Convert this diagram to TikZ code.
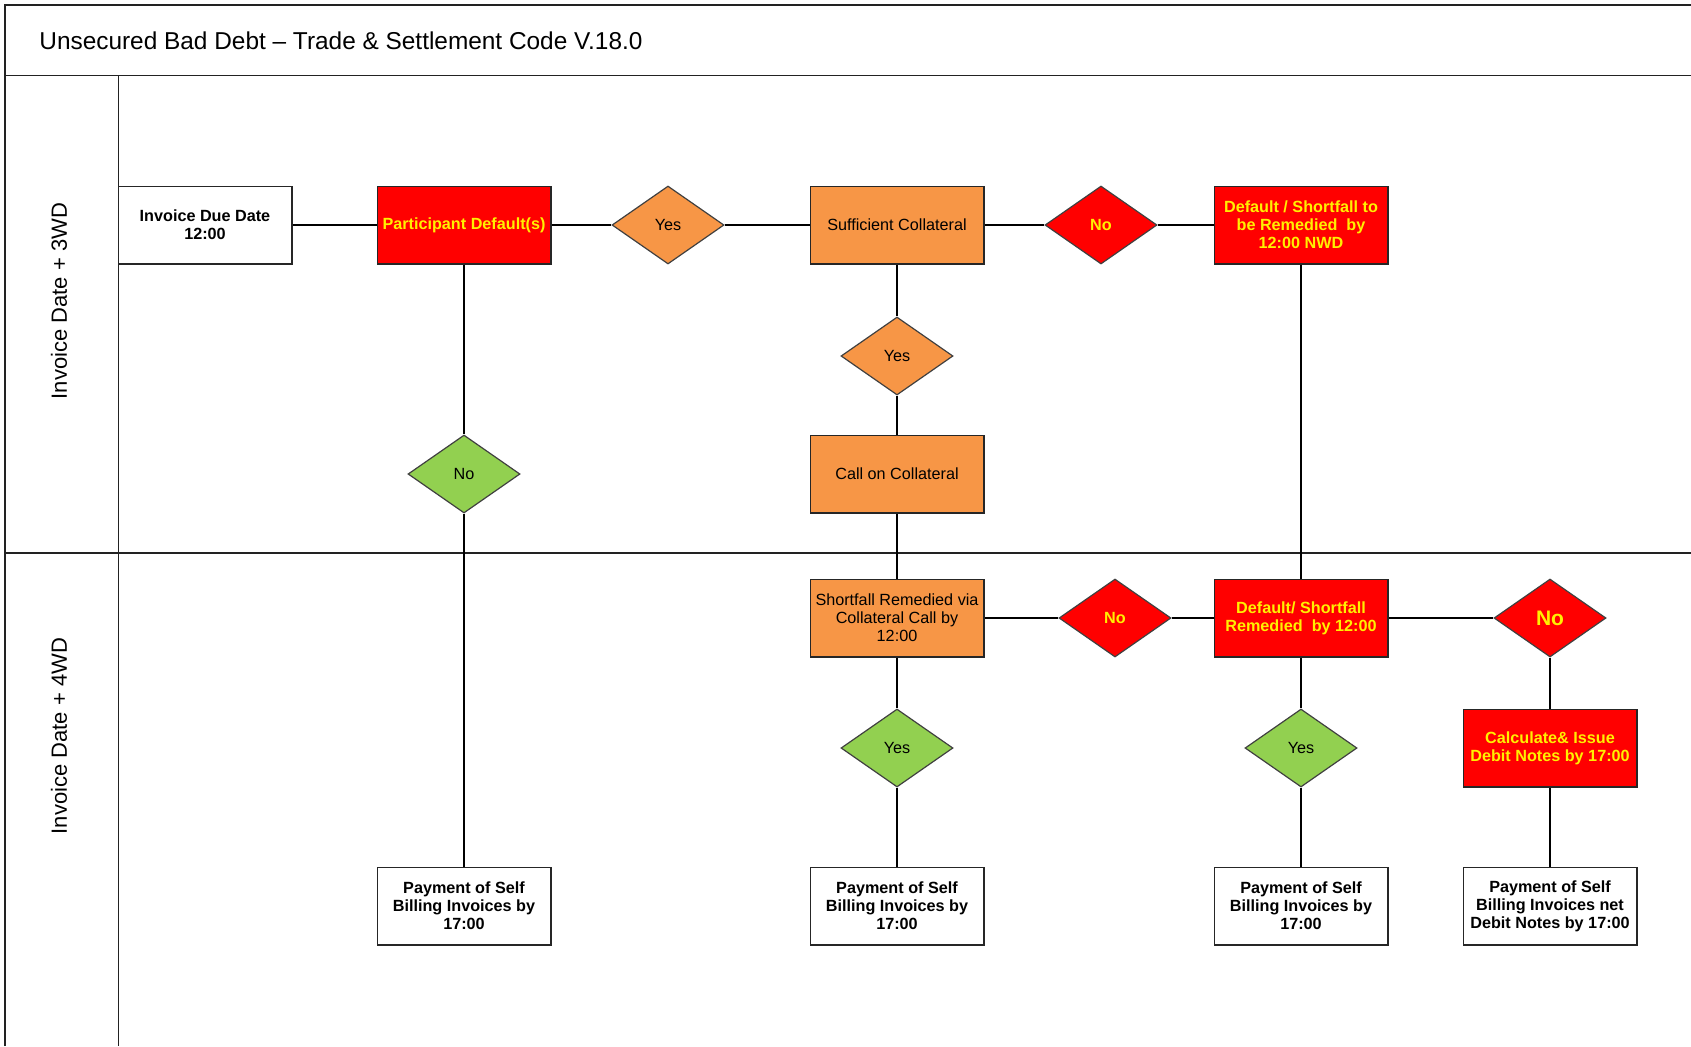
\documentclass[tikz,border=0pt]{standalone}
\usepackage{fontspec}
\setmainfont{Liberation Sans}
\usetikzlibrary{shapes.geometric}
\definecolor{boxorange}{HTML}{F79646}
\definecolor{boxgreen}{HTML}{92D050}
\definecolor{boxred}{HTML}{FF0000}
\definecolor{textyellow}{HTML}{FFF000}
\definecolor{framegray}{HTML}{222222}
\begin{document}
\begin{tikzpicture}
[x=0.5pt,y=-0.5pt,%
  boxdecorate/.style={shape=rectangle,draw=black!85,line width=0.7pt,minimum width=86.8pt,minimum height=38.8pt,inner sep=1pt,align=center},%
  whitebox/.style={boxdecorate,fill=white,font=\fontsize{8.1}{9}\selectfont\bfseries},%
  orangebox/.style={boxdecorate,fill=boxorange,font=\fontsize{8.1}{9}\selectfont},%
  redbox/.style={boxdecorate,fill=boxred,text=textyellow,font=\fontsize{8.1}{9}\selectfont\bfseries},%
  diamdecorate/.style={shape=diamond,draw=black!75,line width=0.6pt,minimum width=56pt,minimum height=39pt,inner sep=0pt},%
  orangediam/.style={diamdecorate,fill=boxorange,font=\fontsize{8.1}{9}\selectfont},%
  greendiam/.style={diamdecorate,fill=boxgreen,font=\fontsize{8.1}{9}\selectfont},%
  reddiam/.style={diamdecorate,fill=boxred,text=textyellow,font=\fontsize{8.1}{9}\selectfont\bfseries},%
  linedecorate/.style={-,line width=0.6pt,black},%
  framedecorate/.style={line width=0.7pt,framegray}]
\useasboundingbox (0,0) rectangle (1691,1046);
%% frame and lanes
\draw[framedecorate] (5,1046) -- (5,5) -- (1691,5);
\draw[framedecorate] (5,75.5) -- (1691,75.5);
\draw[framedecorate] (118.6,75.5) -- (118.6,1046);
\draw[framedecorate] (5,553) -- (1691,553);
\node (title) at (39,41) [anchor=west,inner sep=0pt,font=\fontsize{12.2}{14}\selectfont] {Unsecured Bad Debt -- Trade \& Settlement Code V.18.0};
\node (lanea) at (59,301) [rotate=90,font=\fontsize{11}{13}\selectfont] {Invoice Date + 3WD};
\node (laneb) at (59,736) [rotate=90,font=\fontsize{11}{13}\selectfont] {Invoice Date + 4WD};
%% boxes
\node (inv) at (205,225) [whitebox] {Invoice Due Date\\12:00};
\node (pd) at (464,225) [redbox] {Participant Default(s)};
\node (suff) at (897,225) [orangebox] {Sufficient Collateral};
\node (defa) at (1301,225) [redbox] {Default / Shortfall to\\be Remedied~ by\\12:00 NWD};
\node (call) at (897,474) [orangebox] {Call on Collateral};
\node (short) at (897,618) [orangebox] {Shortfall Remedied via\\Collateral Call by\\12:00};
\node (defb) at (1301,618) [redbox] {Default/ Shortfall\\Remedied~ by 12:00};
\node (calc) at (1550,748) [redbox] {Calculate\& Issue\\Debit Notes by 17:00};
\foreach \nodename/\x in {paya/464, payb/897, payc/1301}
{
  \node (\nodename) at (\x,906) [whitebox] {Payment of Self\\Billing Invoices by\\17:00};
}
\node (payd) at (1550,906) [whitebox] {Payment of Self\\Billing Invoices net\\Debit Notes by 17:00};
%% decisions
\foreach \nodename/\x/\y in {ya/668/225, yb/897/356}
{
  \node (\nodename) at (\x,\y) [orangediam] {Yes};
}
\foreach \nodename/\x/\y/\word in {ng/464/474/No, yc/897/748/Yes, yd/1301/748/Yes}
{
  \node (\nodename) at (\x,\y) [greendiam] {\word};
}
\foreach \nodename/\x/\y in {na/1101/225, nb/1115/618}
{
  \node (\nodename) at (\x,\y) [reddiam] {No};
}
\node (nc) at (1550,618) [reddiam,font=\fontsize{10.5}{12}\selectfont\bfseries] {No};
%% connectors
\path
\foreach \startnode/\endnode in {inv/pd, pd/ya, ya/suff, suff/na, na/defa,
  pd/ng, ng/paya, suff/yb, yb/call, call/short, defa/defb,
  short/nb, nb/defb, defb/nc, short/yc, yc/payb, defb/yd, yd/payc,
  nc/calc, calc/payd} {
  (\startnode) edge[linedecorate] (\endnode)
};
\end{tikzpicture}
\end{document}
